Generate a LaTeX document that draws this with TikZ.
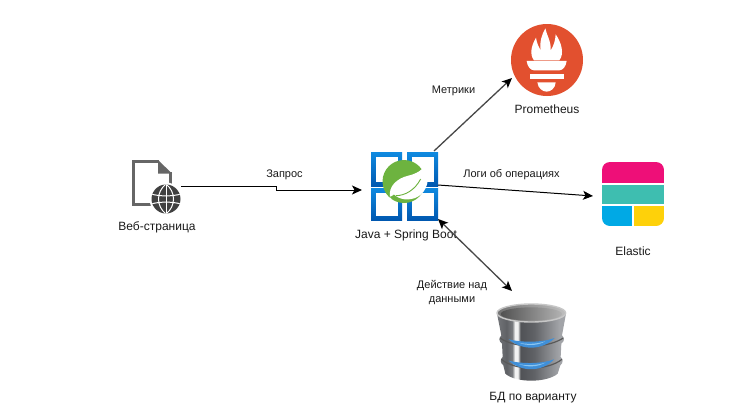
\documentclass[tikz,border=0pt]{standalone}
\usepackage{fontspec}
\setmainfont{Liberation Sans}
\usetikzlibrary{arrows.meta}
\definecolor{dbA}{HTML}{74767A}
\definecolor{dbB}{HTML}{5F6165}
\definecolor{dbC}{HTML}{787A7E}
\definecolor{dbW}{HTML}{F2F2F2}
\definecolor{dbD}{HTML}{505256}
\definecolor{dbE}{HTML}{606266}
\definecolor{dbF}{HTML}{A2A4A8}
\pgfdeclarehorizontalshading{dbbody}{100bp}{
  color(0bp)=(dbA); color(25bp)=(dbA); color(32bp)=(dbB); color(36bp)=(dbC); color(38bp)=(dbW); color(40bp)=(dbW); color(42bp)=(dbD); color(52bp)=(dbE); color(70bp)=(dbF); color(75bp)=(dbF); color(100bp)=(dbF)}
\definecolor{ink}{HTML}{1A1A1A}
\definecolor{docgrey}{HTML}{666666}
\definecolor{globegrey}{HTML}{404040}
\definecolor{springgreen}{HTML}{6DB33F}
\definecolor{promred}{HTML}{E2502F}
\definecolor{elpink}{HTML}{EE0F78}
\definecolor{elteal}{HTML}{3EBEB0}
\definecolor{elblue}{HTML}{00A9E5}
\definecolor{elyellow}{HTML}{FED10A}
\definecolor{azuretop}{HTML}{0F8AE0}
\definecolor{azurebot}{HTML}{0058B0}
\definecolor{glow}{HTML}{3F8FD8}
\definecolor{glowlight}{HTML}{8CC6F0}
\tikzset{
  lbl/.style={font=\fontsize{12}{14}\selectfont, text=ink, inner sep=0pt, align=center},
  small/.style={font=\fontsize{11}{14}\selectfont, text=ink, inner sep=0pt, align=center},
  conn/.style={draw=black!72, line width=1.3pt, -{Stealth[length=10pt,width=9pt,inset=2.5pt,black]}},
  flat/.style={draw=black, line width=1pt, -{Stealth[length=10pt,width=9pt,inset=2.5pt]}},
  both/.style={draw=black!72, line width=1.3pt, {Stealth[length=10pt,width=9pt,inset=2.5pt,black]}-{Stealth[length=10pt,width=9pt,inset=2.5pt,black]}},
  iconbox/.style={inner sep=0pt, outer sep=0pt, minimum width=#1},
}
\begin{document}
\begin{tikzpicture}[x=1pt,y=-1pt]
\useasboundingbox (0,0) rectangle (737,405);
\fill[white] (0,0) rectangle (737,405);

% ---------- web page icon
\begin{scope}
  \draw[docgrey, line width=2.6pt, line join=miter] (159,161.3) -- (133.3,161.3) -- (133.3,204.2) -- (153,204.2);
  \draw[docgrey, line width=2.6pt] (170.7,172) -- (170.7,186);
  \fill[docgrey] (158,160) -- (172,173.5) -- (158,173.5) -- cycle;
  \fill[white] (166,199) circle (16.5);
  \fill[globegrey] (166,199) circle (14.5);
  \begin{scope}
    \clip (166,199) circle (14.5);
    \draw[white, line width=1pt] (151,194) .. controls (160,196.5) and (172,196.5) .. (181,194);
    \draw[white, line width=1pt] (151,204) .. controls (160,201.5) and (172,201.5) .. (181,204);
    \draw[white, line width=1pt] (166,184) -- (166,214);
    \draw[white, line width=1pt] (166,184) .. controls (156,192) and (156,206) .. (166,214);
    \draw[white, line width=1pt] (166,184) .. controls (176,192) and (176,206) .. (166,214);
  \end{scope}
\end{scope}
\node[iconbox=50pt, minimum height=47pt] (web) at (156,183) {};
\node[lbl] (weblabel) at (157,227) {Веб-страница};

% ---------- Spring icon
\foreach \xa/\ya/\xb/\yb in {371/152/402/186.5, 407/152/438/186.5, 371/188/402/220, 407/188/438/220}{
  \shade[top color=azuretop, bottom color=azurebot] (\xa,\ya) rectangle (\xb,\yb);
  \fill[white] (\xa+4.5,\ya+4.5) rectangle (\xb-4.5,\yb-4.5);
}
\node[iconbox=68pt, minimum height=68pt] (spring) at (404.5,186) {};
\fill[springgreen] (404,181.5) circle (21.5);
\begin{scope}[shift={(380,155)},x=0.3333pt,y=-0.3333pt]
  \fill[white] (30,125) .. controls (25,95) and (50,70) .. (85,62)
     .. controls (110,56) and (128,45) .. (138,28)
     .. controls (152,70) and (142,110) .. (112,126)
     .. controls (88,138) and (58,135) .. (42,118)
     .. controls (38,122) and (34,124) .. (30,125) -- cycle;
  \draw[springgreen, line width=0.9pt] (48,122) .. controls (75,122) and (105,105) .. (122,72);
  \fill[white] (30,131) circle (4);
\end{scope}
\node[lbl] (springlabel) at (406,235) {Java + Spring Boot};

% ---------- Prometheus icon
\node[circle, fill=promred, minimum size=72pt, inner sep=0pt, outer sep=0pt] (prom) at (547,60) {};
\begin{scope}[shift={(520,25)},x=0.3333pt,y=-0.3333pt]
  \fill[white] (42,106) .. controls (28,88) and (34,62) .. (48,38)
     .. controls (50,52) and (54,62) .. (62,76)
     .. controls (58,50) and (66,28) .. (76,10)
     .. controls (80,30) and (94,50) .. (92,76)
     .. controls (102,62) and (106,44) .. (107,28)
     .. controls (124,52) and (134,86) .. (118,106) -- cycle;
  \fill[white] (20,108) -- (140,108) .. controls (138,125) and (128,136) .. (118,136)
     -- (42,136) .. controls (32,136) and (22,125) .. (20,108) -- cycle;
  \fill[white] (30,146) rectangle (131,163);
  \fill[white] (52,172) -- (107,172) .. controls (106,190) and (92,200) .. (80,200) .. controls (68,200) and (54,190) .. (52,172) -- cycle;
\end{scope}
\node[lbl] (promlabel) at (547,109.5) {Prometheus};

% ---------- Elastic icon
\begin{scope}
  \clip[rounded corners=8pt] (602,162) rectangle (664,226);
  \fill[elpink] (602,162) rectangle (664,183);
  \fill[elteal] (602,185) rectangle (664,204);
  \fill[elblue] (602,206) rectangle (632,226);
  \fill[elyellow] (634,206) rectangle (664,226);
\end{scope}
\node[iconbox=62pt, minimum height=64pt] (elastic) at (633,194) {};
\node[lbl] (elasticlabel) at (633,251) {Elastic};

% ---------- database icon
\begin{scope}[shift={(492,302)},x=0.3333pt,y=-0.3333pt]
  \shade[shading=dbbody] (15,35) -- (28,100) .. controls (20,108) and (20,118) .. (30,125)
     -- (32,165) .. controls (24,172) and (24,182) .. (34,190)
     -- (40,215) .. controls (70,243) and (165,243) .. (197,215)
     -- (205,190) .. controls (214,182) and (214,172) .. (206,165)
     -- (208,125) .. controls (218,118) and (218,108) .. (210,100)
     -- (222,35) -- cycle;
  \draw[black!65, line width=1.2pt] (24,108) .. controls (70,140) and (165,140) .. (214,108);
  \draw[black!65, line width=1.2pt] (28,172) .. controls (70,207) and (165,207) .. (210,172);
  \fill[glow] (50,112) .. controls (90,146) and (150,146) .. (188,108) .. controls (150,122) and (90,122) .. (50,112) -- cycle;
  \fill[glowlight] (80,122) .. controls (105,132) and (135,132) .. (160,118) .. controls (135,126) and (105,128) .. (80,122) -- cycle;
  \fill[glow] (50,176) .. controls (90,211) and (150,211) .. (186,172) .. controls (150,186) and (90,186) .. (50,176) -- cycle;
  \fill[glowlight] (80,186) .. controls (105,196) and (135,196) .. (160,182) .. controls (135,190) and (105,192) .. (80,186) -- cycle;
  \shade[left color=black!55, right color=black!25, draw=black!22, line width=1.4pt] (118,33) ellipse [x radius=103, y radius=27];
  \shade[left color=black!68, right color=black!30] (118,36) ellipse [x radius=92, y radius=20];
\end{scope}
\node[iconbox=68pt, minimum height=78pt] (db) at (531,345) {};
\node[lbl] (dblabel) at (533,398) {БД по варианту};

% ---------- connectors
\coordinate (webout) at (181,186);
\coordinate (springin) at (362,190);
\coordinate (springtop) at (434,151);
\coordinate (promin) at (512,78);
\coordinate (springright) at (438,185);
\coordinate (elasticin) at (593,196);
\coordinate (springbottom) at (438,219);
\coordinate (dbtop) at (512,291);
\draw[flat] (webout) -- (276,186) -- (276,190) -- (springin);
\draw[conn] (springtop) -- (promin);
\draw[flat] (springright) -- (elasticin);
\draw[both] (springbottom) -- (dbtop);

% ---------- connector labels
\node[small] (zapros) at (284.5,174.5) {Запрос};
\node[small] (metriki) at (453.5,90.5) {Метрики};
\node[small] (logi) at (511.5,174.5) {Логи об операциях};
\node[small] (deistvie) at (452,293) {Действие над\\данными};
\end{tikzpicture}
\end{document}
